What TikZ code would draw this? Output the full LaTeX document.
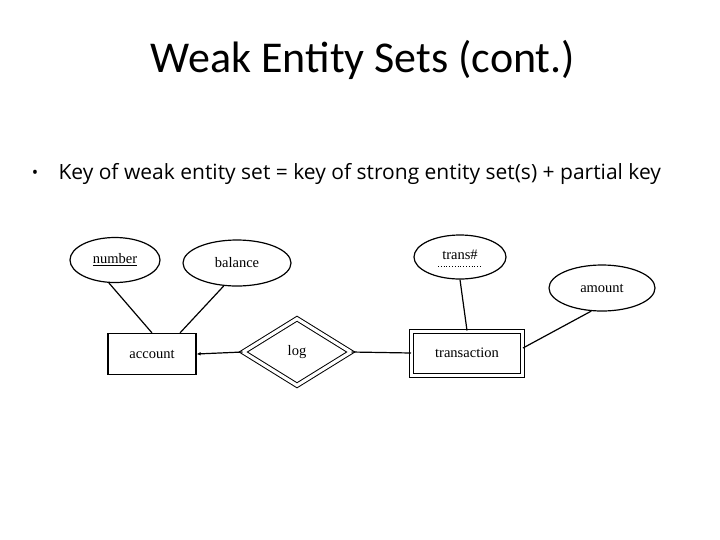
\documentclass[tikz,border=0pt]{standalone}
\usepackage{fontspec}
\setmainfont{Liberation Serif}
\newfontfamily\titlefont{Carlito}
\newfontfamily\bulletfont{Open Sans}
\usetikzlibrary{positioning,arrows.meta,shapes.geometric}

\begin{document}
\begin{tikzpicture}[x=1pt, y=-1pt,
      attr/.style={ellipse, draw, line width=1.2pt, inner sep=0pt,
                   font=\fontsize{14.5}{16}\selectfont},
      entity/.style={rectangle, draw, line width=1.2pt, minimum width=88pt,
                   minimum height=41pt, font=\fontsize{14.5}{16}\selectfont},
      weakent/.style={entity, double, double distance=3pt, line width=1pt,
                   minimum width=111pt, minimum height=44pt},
      wrel/.style={diamond, draw, double, double distance=3.2pt, line width=1pt,
                   inner sep=0pt, minimum width=108pt, minimum height=67pt,
                   font=\fontsize{14.5}{16}\selectfont},
      conn/.style={line width=1.2pt},
      arr/.style={-{Latex[length=4pt,width=3.5pt]}, line width=1.2pt}]
  \useasboundingbox[fill=white] (0,0) rectangle (720,539);
  % heading and bullet
  \node (title) at (363,60) {\titlefont\fontsize{44}{48}\selectfont Weak Entity Sets (cont.)};
  \node (dot) at (35,174) {\bulletfont\fontsize{17}{18}\selectfont\textbullet};
  \node[anchor=west] (keyline) at (55,174)
       {\bulletfont\fontsize{21}{24}\selectfont Key of weak entity set = key of strong entity set(s) + partial key};
  % entity sets
  \node[entity] (acct) at (152,354) {account};
  \node[wrel] (log) at (297,352) {log};
  \node[weakent] (trans) at (467,353) {transaction};
  % attributes
  \node[attr, minimum width=90pt, minimum height=45pt] (num) at (115,260) {\underline{number}};
  \node[attr, minimum width=108pt, minimum height=46pt] (bal) at (237,263) {balance};
  \node[attr, minimum width=92pt, minimum height=44pt] (tno) at (460,257) {\raisebox{5pt}{trans\#}};
  \node[attr, minimum width=106pt, minimum height=46pt] (amt) at (602,288) {amount};
  \draw[dotted, line width=0.8pt] ([xshift=-22pt,yshift=-9pt]tno.center) -- ([xshift=22pt,yshift=-9pt]tno.center);
  % connectors
  \draw[conn] (num.255) -- (acct.north);
  \draw[conn] (bal.240) -- ([xshift=28pt]acct.north);
  \draw[arr] (log.west) -- (acct.east);
  \draw[conn] (log.east) -- (trans.west);
  \draw[conn] (tno.south) -- (trans.north);
  \draw[conn] (amt.245) -- ([yshift=5pt]trans.east);
\end{tikzpicture}
\end{document}
